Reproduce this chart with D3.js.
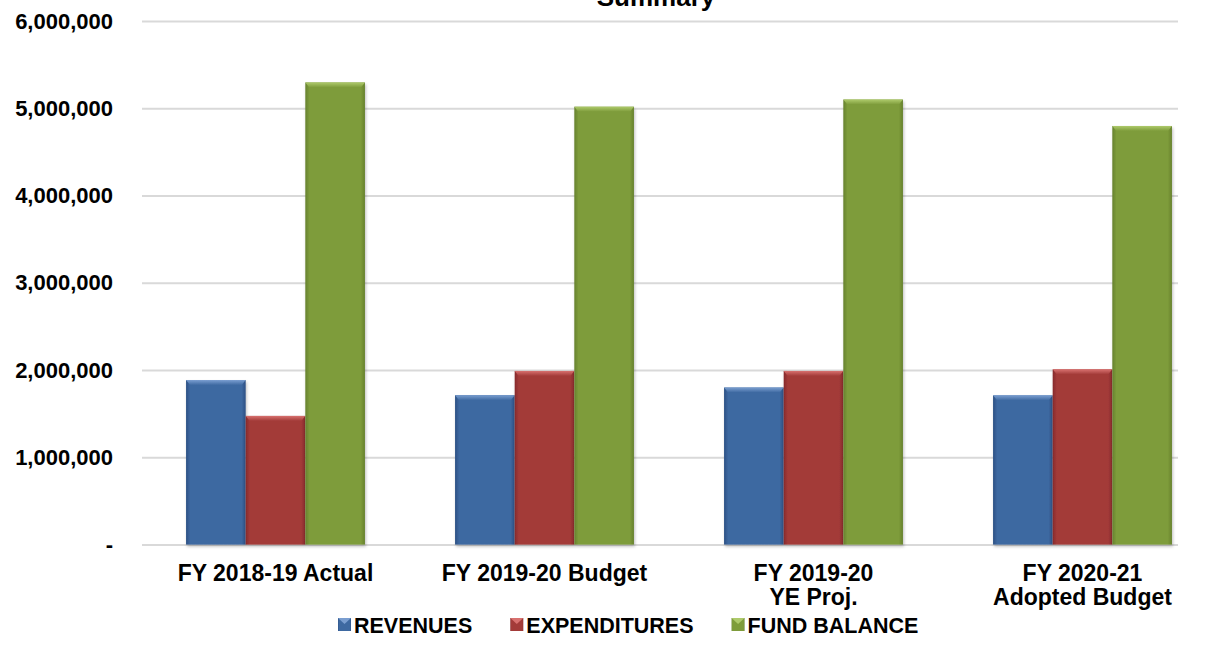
<!DOCTYPE html>
<html>
<head>
<meta charset="utf-8">
<script src="https://cdn.jsdelivr.net/npm/d3@7/dist/d3.min.js"></script>
<style>
  html, body { margin: 0; padding: 0; background: #ffffff; }
  svg { display: block; }
  text { font-family: "Liberation Sans", Arial, sans-serif; font-weight: bold; fill: #000; }
</style>
</head>
<body>
<svg id="chart" width="1206" height="652"></svg>
<script>
// ---- data ----
const categories = [
  ["FY 2018-19 Actual"],
  ["FY 2019-20 Budget"],
  ["FY 2019-20", "YE Proj."],
  ["FY 2020-21", "Adopted Budget"]
];
const seriesNames = ["REVENUES", "EXPENDITURES", "FUND BALANCE"];
const revenues     = [1885000, 1712000, 1800000, 1710000];
const expenditures = [1475000, 1990000, 1990000, 2008000];
const fundBalance  = [5296000, 5018000, 5100000, 4797000];
const yTickValues  = [0, 1000000, 2000000, 3000000, 4000000, 5000000, 6000000];
const titleText = "Summary";

const seriesValues = [revenues, expenditures, fundBalance];
const seriesColors = [
  { base: "#3E69A1", edge: "#2C5084", top: "#7A9ED0" },
  { base: "#A33B39", edge: "#86292A", top: "#D8716F" },
  { base: "#7E9C3B", edge: "#66812D", top: "#AECA6B" }
];

const svg = d3.select("#chart");
const W = 1206, H = 652;
const gridLeft = 142, gridRight = 1178;

const y = d3.scaleLinear().domain([0, 6000000]).range([544.6, 21]);
const x0 = d3.scaleBand()
  .domain(d3.range(categories.length))
  .range([141, 1217])
  .paddingInner(0.335)
  .paddingOuter(0.1675);
const x1 = d3.scaleBand()
  .domain(d3.range(seriesNames.length))
  .range([0, x0.bandwidth()])
  .padding(0);

// ---- defs: gradients & shadow ----
const defs = svg.append("defs");
seriesColors.forEach((c, i) => {
  const gh = defs.append("linearGradient").attr("id", "gh" + i)
    .attr("x1", "0").attr("x2", "1").attr("y1", "0").attr("y2", "0");
  gh.append("stop").attr("offset", "0%").attr("stop-color", c.edge);
  gh.append("stop").attr("offset", "7%").attr("stop-color", c.base);
  gh.append("stop").attr("offset", "93%").attr("stop-color", c.base);
  gh.append("stop").attr("offset", "100%").attr("stop-color", c.edge);
  const gv = defs.append("linearGradient").attr("id", "gv" + i)
    .attr("x1", "0").attr("x2", "0").attr("y1", "0").attr("y2", "1");
  gv.append("stop").attr("offset", "0%").attr("stop-color", c.top);
  gv.append("stop").attr("offset", "100%").attr("stop-color", c.base);
});
const f = defs.append("filter").attr("id", "shadow")
  .attr("x", "-10%").attr("y", "-10%").attr("width", "120%").attr("height", "120%");
f.append("feDropShadow").attr("dx", 1).attr("dy", 2).attr("stdDeviation", 1.5)
  .attr("flood-color", "#000").attr("flood-opacity", 0.25);

// ---- title (cut off at top) ----
svg.append("text")
  .attr("x", 656).attr("y", 6)
  .attr("text-anchor", "middle")
  .style("font-size", "26px")
  .text(titleText);

// ---- y axis with gridlines ----
const fmt = d3.format(",");
const yAxis = d3.axisLeft(y)
  .tickValues(yTickValues)
  .tickSize(-(gridRight - gridLeft))
  .tickPadding(29)
  .tickFormat(d => d === 0 ? "-" : fmt(d));
const gy = svg.append("g").attr("transform", `translate(${gridLeft},0)`).call(yAxis);
gy.select(".domain").remove();
gy.selectAll(".tick line").attr("stroke", "#d9d9d9").attr("stroke-width", 2);
gy.selectAll(".tick text")
  .style("font-size", "22px")
  .style("font-family", "'Liberation Sans', Arial, sans-serif")
  .style("font-weight", "bold")
  .attr("fill", "#000");

// ---- bars ----
const groups = svg.append("g").selectAll("g")
  .data(categories.map((c, i) => i))
  .join("g")
  .attr("transform", i => `translate(${x0(i)},0)`);

groups.each(function(ci) {
  const g = d3.select(this);
  seriesValues.forEach((vals, si) => {
    const v = vals[ci];
    const bx = x1(si), bw = x1.bandwidth();
    const by = y(v), bh = y(0) - y(v);
    g.append("rect")
      .attr("x", bx).attr("y", by).attr("width", bw).attr("height", bh)
      .attr("fill", `url(#gh${si})`)
      .attr("filter", "url(#shadow)");
    // top bevel
    g.append("path")
      .attr("d", `M${bx},${by} L${bx + bw},${by} L${bx + bw - 4},${by + 5} L${bx + 4},${by + 5} Z`)
      .attr("fill", `url(#gv${si})`);
  });
});

// ---- x axis labels ----
const gx = svg.append("g");
categories.forEach((lines, i) => {
  const t = gx.append("text")
    .attr("x", x0(i) + x0.bandwidth() / 2)
    .attr("y", 581)
    .attr("text-anchor", "middle")
    .style("font-size", "23px");
  lines.forEach((ln, k) => {
    t.append("tspan")
      .attr("x", x0(i) + x0.bandwidth() / 2)
      .attr("dy", k === 0 ? 0 : 24)
      .text(ln);
  });
});

// ---- legend ----
const legend = svg.append("g");
let lx = 338;
const ly = 633;
seriesNames.forEach((name, si) => {
  const c = seriesColors[si];
  legend.append("rect")
    .attr("x", lx).attr("y", ly - 15).attr("width", 13).attr("height", 13)
    .attr("fill", `url(#gh${si})`);
  legend.append("path")
    .attr("d", `M${lx},${ly - 15} L${lx + 13},${ly - 15} L${lx + 6.5},${ly - 9} Z`)
    .attr("fill", c.top);
  const t = legend.append("text")
    .attr("x", lx + 16).attr("y", ly)
    .style("font-size", "21.5px")
    .text(name);
  lx += 16 + t.node().getComputedTextLength() + 38;
});
</script>
</body>
</html>
